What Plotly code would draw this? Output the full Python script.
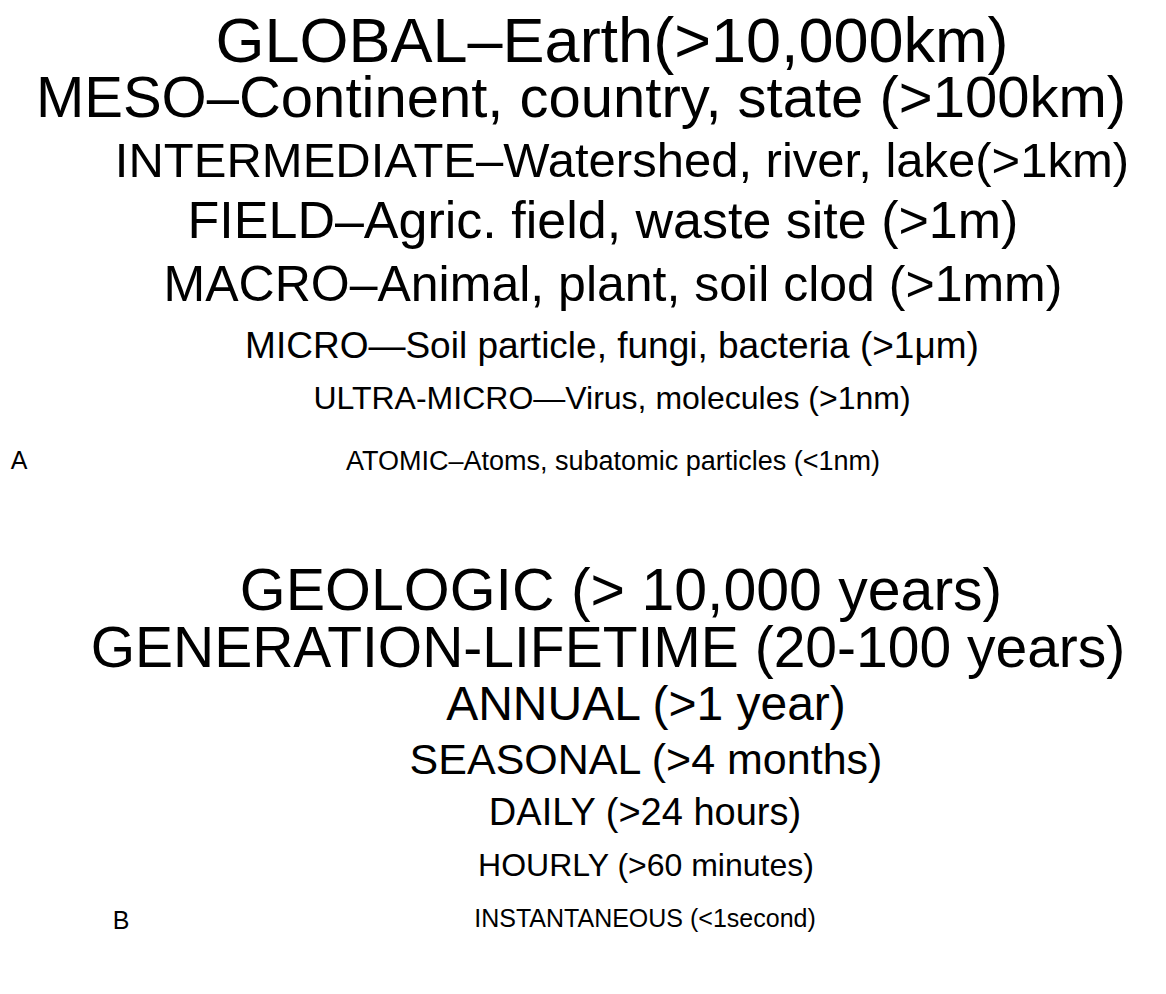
import plotly.graph_objects as go

# panel A: spatial scales, panel B: temporal scales
space_labels = [
    "GLOBAL\u2013Earth(>10,000km)",
    "MESO\u2013Continent, country, state (>100km)",
    "INTERMEDIATE\u2013Watershed, river, lake(>1km)",
    "FIELD\u2013Agric. field, waste site (>1m)",
    "MACRO\u2013Animal, plant, soil clod (>1mm)",
    "MICRO\u2014Soil particle, fungi, bacteria (>1\u03bcm)",
    "ULTRA-MICRO\u2014Virus, molecules (>1nm)",
    "ATOMIC\u2013Atoms, subatomic particles (<1nm)",
]
time_labels = [
    "GEOLOGIC (> 10,000 years)",
    "GENERATION-LIFETIME (20-100 years)",
    "ANNUAL (>1 year)",
    "SEASONAL (>4 months)",
    "DAILY (>24 hours)",
    "HOURLY (>60 minutes)",
    "INSTANTANEOUS (<1second)",
]
panel_letters = ["A", "B"]

# layout (pixel coordinates on a 1166 x 994 canvas)
space_x = [604, 573, 614, 595, 605, 604, 604, 605]
space_y = [38, 94, 157, 217, 280, 341, 393, 455]
space_size = [63, 58, 49, 52, 50, 37, 32, 27]

time_x = [613, 600, 638, 638, 637, 638, 637]
time_y = [587, 645, 700, 755, 807, 860, 913]
time_size = [59, 57, 48, 43, 38, 32, 25]

letter_x = [11, 113]
letter_y = [455, 915]
letter_size = [25, 25]

FONT = "Liberation Sans, Arial, Helvetica, sans-serif"


def text_trace(x, y, labels, sizes):
    return go.Scatter(
        x=x,
        y=y,
        text=labels,
        mode="text",
        textposition="middle center",
        textfont={"family": FONT, "size": sizes, "color": "black"},
        hoverinfo="skip",
        showlegend=False,
    )


def main():
    fig = go.Figure(
        data=[
            text_trace(space_x, space_y, space_labels, space_size),
            text_trace(time_x, time_y, time_labels, time_size),
            text_trace(letter_x, letter_y, panel_letters, letter_size),
        ]
    )
    fig.update_layout(
        width=1166,
        height=994,
        margin={"l": 0, "r": 0, "t": 0, "b": 0},
        paper_bgcolor="white",
        plot_bgcolor="white",
        xaxis={"range": [0, 1166], "visible": False, "fixedrange": True},
        yaxis={"range": [994, 0], "visible": False, "fixedrange": True},
    )
    fig.write_html("out.html")


if __name__ == "__main__":
    main()
